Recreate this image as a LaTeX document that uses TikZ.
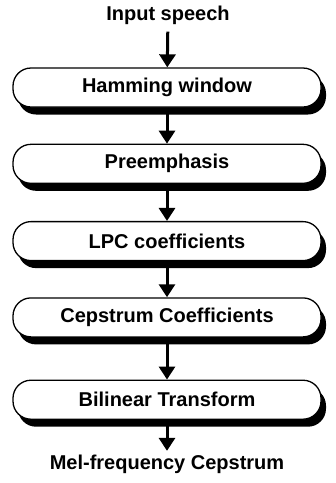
\documentclass[tikz,border=0pt]{standalone}
\usepackage{fontspec}
\setmainfont{Liberation Sans}
\usetikzlibrary{arrows.meta, positioning, shadows}
\tikzset{
  stagebox/.style={
    rectangle, rounded corners=18pt, draw=black, line width=1.3pt,
    fill=white, minimum width=308pt, minimum height=39pt,
    align=center, font=\fontsize{20}{23}\selectfont\bfseries,
    drop shadow={shadow xshift=5pt, shadow yshift=-7.5pt, fill=black, opacity=1}
  },
  endtext/.style={
    rectangle, draw=none, fill=none, inner sep=1pt,
    font=\fontsize{20}{23}\selectfont\bfseries
  },
  flowarrow/.style={-{Triangle[width=16pt,length=13pt]}, line width=3pt, draw=black}
}

\begin{document}
\begin{tikzpicture}[x=1pt, y=1pt, node distance=36pt]
\useasboundingbox (0,0) rectangle (336,-483);

\node[endtext] (input) at (168,-15) {Input speech};
\node[stagebox] (hamming) at (167,-87.5) {Hamming window};
\node[stagebox, below=36pt of hamming] (preemph) {Preemphasis};
\node[stagebox, below=37pt of preemph] (lpc) {LPC coefficients};
\node[stagebox, below=36pt of lpc] (cepstrum) {Cepstrum Coefficients};
\node[stagebox, below=42pt of cepstrum] (bilinear) {Bilinear Transform};
\node[endtext, below=34pt of bilinear] (mel) {Mel-frequency Cepstrum};

\draw[flowarrow, shorten <=6pt] (input) -- (hamming);
\draw[flowarrow] (hamming) -- (preemph);
\draw[flowarrow] (preemph) -- (lpc);
\draw[flowarrow] (lpc) -- (cepstrum);
\draw[flowarrow] (cepstrum) -- (bilinear);
\draw[flowarrow, shorten >=3pt] (bilinear) -- (mel);

\end{tikzpicture}
\end{document}
